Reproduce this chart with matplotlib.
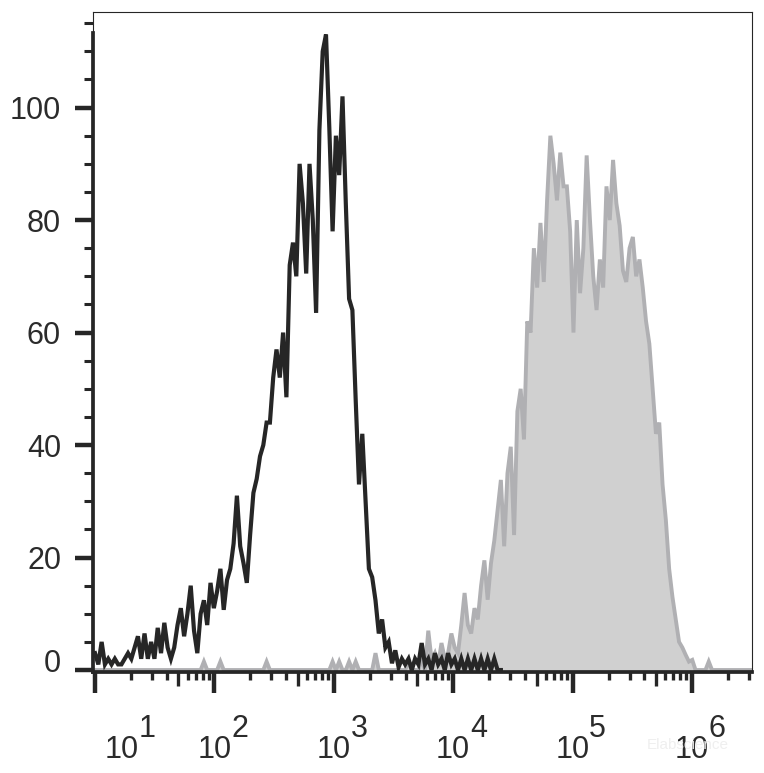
import numpy as np
import matplotlib
matplotlib.use("Agg")
import matplotlib.pyplot as plt
import matplotlib.transforms as mtransforms
from matplotlib.ticker import FixedLocator, NullFormatter

plt.rcParams['font.family'] = ['Liberation Sans', 'DejaVu Sans']

# channel grid (log10 of fluorescence), 200 channels from 10^1 to 10^6.5
n_chan = 200
log_lo, log_hi = 1.0, 6.5

# isotype control (black line), counts per channel 0..123
control = [3, 1, 5, 1, 2, 1, 2, 1, 1, 2,
           3, 2, 4, 6, 2, 6.5, 2, 5, 2, 7.5,
           3, 8.4, 4, 2, 4, 8, 11, 6, 10, 15,
           7, 3, 10, 12.4, 8, 15.5, 11, 14, 18, 10.7,
           16, 18, 22.5, 31, 22, 19, 15.5, 24, 31.5, 34,
           38, 40, 44, 44, 52, 57, 52, 60, 48.5, 72,
           76, 70, 90, 83, 70.5, 90, 80, 63.5, 96, 110,
           113, 96.5, 78, 95, 88, 102, 83, 66, 64, 48,
           33, 42, 30, 18, 16.5, 12.4, 6.5, 9, 4, 5,
           1.2, 3.5, 0.5, 2, 1, 2, 0, 2, 1, 4.8,
           1, 2, 0, 3, 1, 2, 0, 3, 1, 2,
           0, 2, 0, 2, 0, 2, 0, 2, 0, 2,
           0, 2, 0, 0]

# stained sample (grey filled), counts per channel 0..199
sample = [0] * 33 + [1.5] + [0] * 4 + [1.5] + [0] * 13 + [1.5] + [0] * 18 + \
         [0, 1.5, 0, 1.5, 0, 0, 1.5, 0, 1.5, 0, 0, 0, 0, 0, 3] + \
         [0] * 9 + [1.5, 0, 0, 0, 2, 0, 7, 1.8, 3, 1,
                    4.8, 2, 3, 6.5, 4, 3, 8, 13.7, 8, 6.5,
                    11, 9, 15, 19.5, 12.5, 19, 23, 28.4, 33.8, 22,
                    35, 39.7, 24, 46, 50, 41, 62, 60, 75, 68,
                    79.5, 69, 83.5, 95, 90, 83.5, 92, 86, 86, 78,
                    60, 80, 67, 75, 91.5, 80, 70, 64, 73, 68,
                    86, 80, 90.7, 83, 79, 71, 69, 75, 77, 70,
                    73, 68, 62, 58, 50, 42, 44, 33, 26.7, 18,
                    13, 9, 5, 4, 2.7, 1.5, 1.8, 0, 0, 0,
                    0, 1.5, 0, 0, 0, 0, 0, 0, 0, 0,
                    0, 0, 0, 0, 0, 0, 0, 0, 0, 0, 0, 0, 0]

decades = [1, 2, 3, 4, 5, 6]
y_major = [0, 20, 40, 60, 80, 100]

chan = np.linspace(log_lo, log_hi, n_chan)
x_all = 10 ** chan
control = np.array(control, dtype=float)
sample = np.array(sample[:n_chan], dtype=float)
x_ctrl = x_all[:len(control)]

fig = plt.figure(figsize=(7.64, 7.73), dpi=100)
ax = fig.add_axes([93 / 764, 1 - 672 / 773, 659 / 764, 660 / 773])

ax.fill_between(x_all, sample, 0, color='#d0d0d0', lw=0, zorder=1)
ax.plot(x_all, sample, color='#b0b0b3', lw=2.8, zorder=2, solid_joinstyle='miter')
ax.plot(x_ctrl, control, color='#262626', lw=3.0, zorder=3, solid_joinstyle='miter')

ax.set_xscale('log')
ax.set_xlim(10 ** 0.983, 10 ** 6.503)
ax.set_ylim(-0.35, 117.0)

# x ticks: decades long, 5x medium, rest short
ax.xaxis.set_major_locator(FixedLocator([10.0 ** d for d in decades]))
ax.xaxis.set_major_formatter(NullFormatter())
minor_x = [m * 10.0 ** d for d in range(0, 7) for m in (2, 3, 4, 6, 7, 8, 9)]
ax.xaxis.set_minor_locator(FixedLocator(minor_x))
ax.xaxis.set_minor_formatter(NullFormatter())
ax.tick_params(axis='x', which='major', length=15, width=3.2, color='#262626', direction='out')
ax.tick_params(axis='x', which='minor', length=6, width=2.4, color='#262626', direction='out')
sec = ax.secondary_xaxis('bottom')
sec.set_xticks([5 * 10.0 ** d for d in range(0, 7)])
sec.xaxis.set_major_formatter(NullFormatter())
sec.xaxis.set_minor_locator(FixedLocator([]))
sec.tick_params(axis='x', length=10, width=2.4, color='#262626', direction='out')
sec.spines['bottom'].set_visible(False)

# decade labels drawn as "10" with a full size exponent
for d in decades:
    dx = 19.5 if d == 1 else 0
    ax.annotate('10', xy=(10.0 ** d, 0), xycoords=('data', 'axes fraction'),
                xytext=(dx, -62), textcoords='offset points', ha='center', va='baseline',
                fontsize=22, color='#2b2b2b')
    ax.annotate(str(d), xy=(10.0 ** d, 0), xycoords=('data', 'axes fraction'),
                xytext=(dx + 12, -46.5), textcoords='offset points', ha='left', va='baseline',
                fontsize=22, color='#2b2b2b')

# y ticks
ax.set_yticks(y_major)
ax.set_yticks(np.arange(5, 116, 5), minor=True)
ax.set_yticklabels([str(v) for v in y_major], fontsize=22, color='#2b2b2b')
ax.tick_params(axis='y', which='major', length=13, width=3.2, color='#262626', pad=10)
ax.tick_params(axis='y', which='minor', length=6.5, width=2.2, color='#262626')
# the "0" label sits a little above its tick
zero_lab = ax.get_yticklabels()[0]
zero_lab.set_transform(zero_lab.get_transform() +
                       mtransforms.ScaledTranslation(0, 7 / 72, fig.dpi_scale_trans))

for s in ('left', 'bottom'):
    ax.spines[s].set_linewidth(2.7)
    ax.spines[s].set_color('#262626')
ax.spines['left'].set_bounds(-0.35, 113.2)
for s in ('top', 'right'):
    ax.spines[s].set_linewidth(0.8)
    ax.spines[s].set_color('#262626')
ax.plot([0, 0], [0.97, 1.0], transform=ax.transAxes, color='#262626', lw=0.8, clip_on=False)

fig.text(688 / 764, 1 - 745 / 773, 'Elabscience', fontsize=11, color='#efefef',
         ha='center', va='center')

fig.savefig('out.png', dpi=100)
